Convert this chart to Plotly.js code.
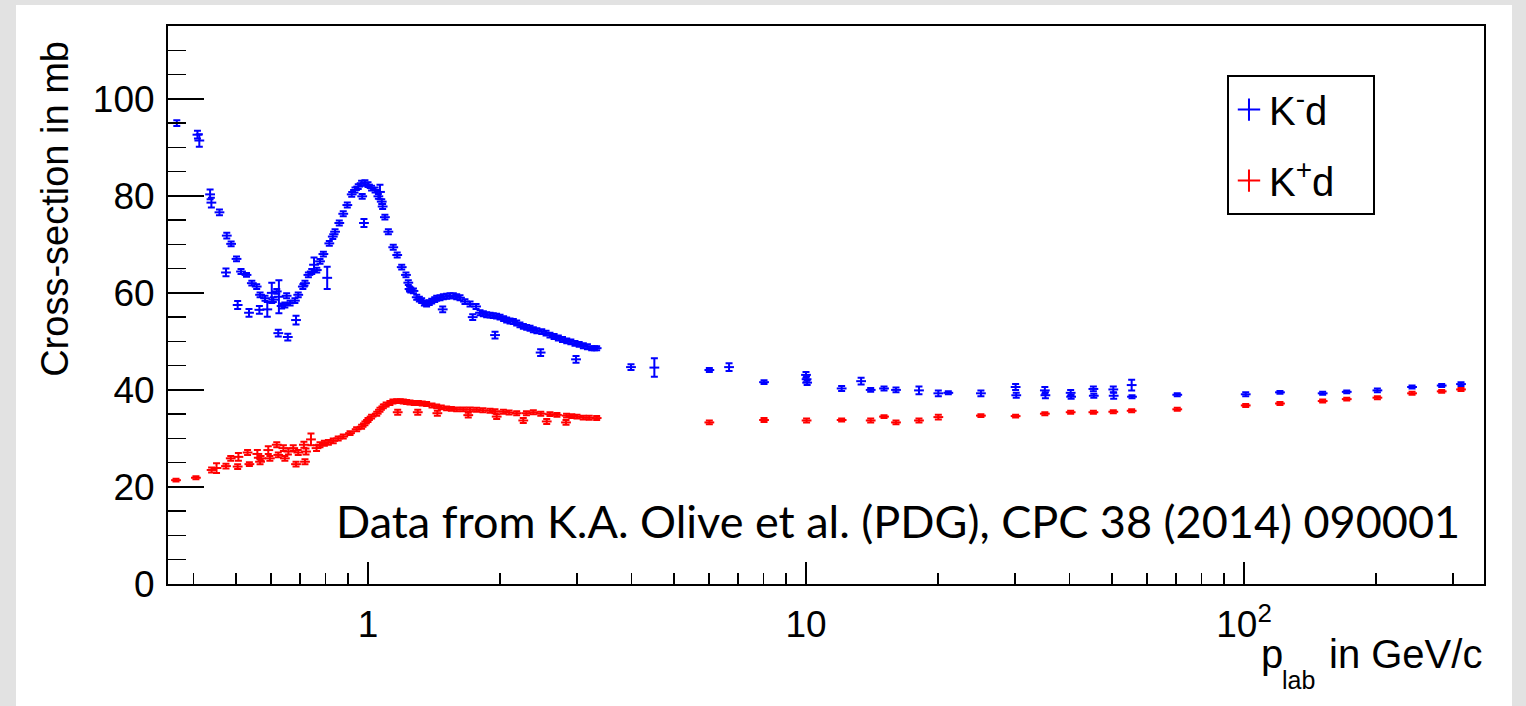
<!DOCTYPE html>
<html><head><meta charset="utf-8">
<script src="https://cdn.plot.ly/plotly-3.0.1.min.js"></script>
<style>
html,body{margin:0;padding:0;background:#e2e2e2;width:1526px;height:706px;overflow:hidden}
#chart{position:absolute;left:16px;top:5px;width:1496px;height:701px;background:#fff}
</style></head><body><div id="chart"></div>
<script>
// K- d total cross-section (mb) vs p_lab (GeV/c)
const kmX = [0.366,0.408,0.412,0.436,0.439,0.458,0.474,0.476,0.487,0.501,0.504,0.513,0.528,0.535,0.543,0.557,0.565,0.567,0.582,0.589,
0.603,0.608,0.619,0.624,0.626,0.635,0.646,0.652,0.656,0.664,0.681,0.685,0.693,0.710,0.718,0.731,0.744,0.753,0.764,0.777,
0.791,0.807,0.816,0.831,0.841,0.860,0.878,0.897,0.918,0.934,0.950,0.967,0.970,0.979,0.984,1.000,1.019,1.038,1.056,1.065,
1.075,1.080,1.093,1.113,1.142,1.166,1.194,1.221,1.236,1.244,1.252,1.270,1.292,1.310,1.326,1.345,1.361,1.380,1.398,1.420,
1.435,1.460,1.481,1.486,1.512,1.539,1.566,1.594,1.622,1.665,1.710,1.734,1.765,1.802,1.834,1.866,1.900,1.932,1.950,1.966,
2.002,2.040,2.073,2.110,2.147,2.185,2.223,2.263,2.303,2.344,2.385,2.430,2.478,2.493,2.550,2.603,2.660,2.720,2.780,2.843,
2.905,2.969,2.985,3.035,3.102,3.170,3.241,3.290,3.327,3.985,4.506,6.016,6.673,8.02,10.0,10.03,10.06,12.06,13.36,14.05,
15.07,16.05,18.11,20.05,21.13,25.08,30.1,30.2,35.1,35.2,40.2,40.3,45.3,45.4,50.3,50.4,55.4,55.5,70.4,100.9,
120.8,151.2,171.6,201.6,241.9,282.7,312.9];
const kmY = [95.0,92.6,91.4,80.3,78.6,76.6,64.2,71.8,70.1,67.0,57.5,64.4,63.7,55.9,62.0,61.3,56.5,59.6,58.9,56.6,
60.0,58.6,60.3,51.7,59.2,57.3,57.5,59.4,50.9,57.9,58.4,54.4,59.6,61.3,62.0,63.7,64.4,65.8,64.7,66.5,
68.0,63.1,70.2,71.6,72.6,74.4,76.3,78.1,80.3,81.2,81.9,82.6,79.9,74.4,82.7,82.3,81.6,81.2,79.9,80.8,
78.8,77.8,75.6,72.6,69.4,67.8,65.3,63.7,62.1,60.8,60.6,60.4,59.1,58.7,58.4,57.9,57.7,58.0,58.3,58.6,
58.9,59.0,56.6,59.2,59.3,59.4,59.4,59.2,59.0,58.2,57.7,55.0,57.2,55.9,55.7,55.5,55.4,55.3,51.3,55.2,
55.0,54.7,54.4,54.2,54.1,53.8,53.4,53.1,52.9,52.7,52.4,52.2,47.7,52.0,51.7,51.3,51.0,50.7,50.4,50.1,
49.9,49.6,46.3,49.4,49.1,48.9,48.6,48.6,48.6,44.7,44.6,44.1,44.7,41.6,43.1,42.2,41.5,40.3,41.8,40.0,
40.3,40.0,39.9,39.3,39.4,39.3,40.6,38.9,39.9,38.9,39.4,38.6,40.2,38.8,40.1,38.8,41.0,38.6,39.0,39.1,
39.5,39.3,39.6,39.9,40.6,40.9,41.2];
const kmErr = [0.6,0.8,1.3,1.0,1.0,0.6,0.8,0.6,0.5,0.5,0.8,0.5,0.4,0.8,0.5,0.5,0.8,0.5,0.5,1.5,
2.1,0.5,0.5,0.7,3.4,0.5,0.5,0.5,0.7,0.5,0.5,0.9,0.5,0.5,0.5,0.5,0.5,1.5,0.5,0.5,
0.5,2.3,0.5,0.5,0.5,0.5,0.5,0.5,0.5,0.5,0.5,0.5,0.5,0.8,0.5,0.5,0.5,0.5,0.5,1.5,
0.5,0.5,0.5,0.5,0.5,0.5,0.5,0.5,0.5,0.5,0.5,0.5,0.5,0.5,0.5,0.5,0.5,0.5,0.5,0.5,
0.5,0.5,0.6,0.5,0.5,0.5,0.5,0.5,0.5,0.5,0.5,0.6,0.5,0.5,0.5,0.5,0.5,0.5,0.7,0.5,
0.5,0.5,0.5,0.5,0.5,0.5,0.5,0.5,0.5,0.5,0.5,0.5,0.7,0.5,0.5,0.5,0.5,0.5,0.5,0.5,
0.5,0.5,0.7,0.5,0.5,0.5,0.4,0.4,0.4,0.6,1.9,0.4,0.8,0.4,0.6,0.6,0.5,0.5,0.7,0.4,
0.4,0.5,0.8,0.6,0.3,0.6,0.6,0.5,0.7,0.6,0.6,0.4,0.5,0.4,0.6,0.6,1.1,0.3,0.3,0.4,
0.3,0.3,0.3,0.4,0.3,0.3,0.4];

// K+ d total cross-section (mb) vs p_lab (GeV/c)
const kpX = [0.3645,0.4047,0.4395,0.451,0.474,0.486,0.504,0.506,0.531,0.536,0.559,0.567,0.570,0.592,0.597,0.619,0.624,0.641,0.646,0.658,
0.675,0.685,0.693,0.714,0.718,0.722,0.741,0.763,0.777,0.795,0.812,0.833,0.855,0.878,0.910,0.942,0.967,0.984,1.000,1.019,
1.047,1.065,1.084,1.100,1.122,1.140,1.163,1.169,1.185,1.204,1.225,1.247,1.275,1.299,1.303,1.330,1.361,1.400,1.435,1.440,
1.470,1.512,1.550,1.594,1.651,1.694,1.710,1.770,1.830,1.899,1.950,1.967,2.037,2.100,2.185,2.262,2.300,2.385,2.480,2.559,
2.603,2.700,2.832,2.840,2.920,3.000,3.100,3.200,3.327,6.016,8.02,10.03,12.06,14.05,15.07,16.05,18.11,20.05,25.08,30.1,
35.1,40.2,45.3,50.3,55.4,70.4,100.9,120.8,151.2,171.6,201.6,241.9,282.7,312.9];
const kpY = [21.4,21.9,23.5,23.9,24.3,25.9,24.2,26.2,27.1,24.7,26.8,25.2,25.9,27.6,25.9,28.7,26.6,28.0,25.9,27.3,
28.0,24.7,27.1,28.7,25.2,27.3,29.8,28.0,28.7,29.0,29.2,29.5,30.0,30.4,31.1,31.9,32.4,33.1,33.8,34.5,
35.1,35.9,36.6,37.0,37.3,37.6,37.7,35.4,37.7,37.6,37.5,37.4,37.3,35.4,37.3,37.2,37.1,36.8,36.6,35.2,
36.4,36.2,36.1,36.0,36.0,34.8,35.95,35.9,35.8,35.7,35.6,34.5,35.5,35.35,35.2,33.7,35.2,35.4,35.1,33.5,
35.0,34.85,33.3,34.7,34.6,34.5,34.3,34.25,34.2,33.3,33.8,33.7,33.8,33.7,34.5,33.3,33.7,34.4,34.7,34.6,
35.1,35.4,35.4,35.5,35.7,36.0,36.8,37.2,37.7,38.1,38.4,39.3,39.7,40.1];
const kpErr = [0.3,0.3,0.5,1.0,0.5,0.5,0.5,0.8,0.5,0.4,0.8,0.5,0.5,0.8,0.5,0.5,0.5,0.6,0.5,0.6,
0.6,0.5,0.5,0.6,0.5,0.6,1.2,0.6,0.5,0.5,0.5,0.5,0.4,0.4,0.4,0.4,0.4,0.4,0.4,0.4,
0.4,0.4,0.4,0.4,0.4,0.4,0.4,0.5,0.4,0.4,0.4,0.4,0.4,0.5,0.4,0.4,0.4,0.4,0.4,0.5,
0.4,0.4,0.4,0.4,0.4,0.5,0.4,0.4,0.4,0.4,0.4,0.5,0.4,0.4,0.4,0.5,0.4,0.4,0.4,0.5,
0.4,0.4,0.5,0.4,0.4,0.4,0.4,0.4,0.4,0.4,0.4,0.4,0.3,0.4,0.3,0.4,0.4,0.5,0.3,0.3,
0.3,0.3,0.3,0.3,0.3,0.3,0.3,0.3,0.3,0.3,0.3,0.3,0.3,0.3];

const seriesNames = ['K<sup>-</sup>d', 'K<sup>+</sup>d'];
const xTickVals = [1, 10, 100];
const xTickText = ['1', '10', '10<sup>2</sup>'];
const xMinorVals = [0.4,0.5,0.6,0.7,0.8,0.9,2,3,4,5,6,7,8,9,20,30,40,50,60,70,80,90,200,300];
const yTickVals = [0, 20, 40, 60, 80, 100];
const yMinorVals = [5,10,15,25,30,35,45,50,55,65,70,75,85,90,95,105,110];

const BLUE = '#0000ff', RED = '#ff0000';
const FONT = 'Liberation Sans, Arial, Helvetica, sans-serif';
const PAD = '\u00a0\u00a0\u00a0';

function dataTrace(x, y, e, color, name) {
  return {
    type: 'scatter', mode: 'markers', x: x, y: y, name: name, showlegend: false, hoverinfo: 'x+y',
    marker: {symbol: 'line-ew', size: 7, color: color, line: {color: color, width: 2}},
    error_y: {type: 'data', array: e, visible: true, width: 3.5, thickness: 2, color: color}
  };
}
function legendTrace(name, color, grp) {
  return {
    type: 'scatter', mode: 'markers', x: [null], y: [null], name: name + PAD, legendgroup: grp,
    marker: {symbol: 'cross-thin', size: 16, color: color, line: {color: color, width: 2}}
  };
}

const traces = [
  dataTrace(kmX, kmY, kmErr, BLUE, seriesNames[0]),
  dataTrace(kpX, kpY, kpErr, RED, seriesNames[1]),
  legendTrace(seriesNames[0], BLUE, 'a'),
  legendTrace(seriesNames[1], RED, 'b')
];

const layout = {
  width: 1496, height: 701,
  margin: {l: 152, r: 28, t: 21, b: 122},
  paper_bgcolor: '#ffffff', plot_bgcolor: '#ffffff',
  font: {family: FONT, size: 37, color: '#000'},
  xaxis: {
    type: 'log', range: [-0.4566, 2.5479], showgrid: false, zeroline: false,
    showline: true, mirror: true, linecolor: '#000', linewidth: 2,
    tickmode: 'array', tickvals: xTickVals, ticktext: xTickText,
    ticks: 'inside', ticklen: 22, tickwidth: 1.5, tickcolor: '#000',
    ticklabelstandoff: 7,
    tickfont: {family: FONT, size: 37, color: '#000'},
    minor: {tickmode: 'array', tickvals: xMinorVals, ticks: 'inside', ticklen: 11, tickwidth: 1.5, tickcolor: '#000', showgrid: false}
  },
  yaxis: {
    range: [0, 115], showgrid: false, zeroline: false,
    showline: true, mirror: true, linecolor: '#000', linewidth: 2,
    tickmode: 'array', tickvals: yTickVals,
    ticks: 'inside', ticklen: 36, tickwidth: 1.5, tickcolor: '#000',
    ticklabelstandoff: 4,
    tickfont: {family: FONT, size: 37, color: '#000'},
    minor: {tickmode: 'array', tickvals: yMinorVals, ticks: 'inside', ticklen: 18, tickwidth: 1.5, tickcolor: '#000', showgrid: false}
  },
  legend: {
    x: 0.8047, y: 0.912, xanchor: 'left', yanchor: 'top',
    bgcolor: '#fff', bordercolor: '#000', borderwidth: 2,
    font: {family: FONT, size: 40, color: '#000'},
    tracegroupgap: 16, itemwidth: 30, traceorder: 'grouped'
  },
  annotations: [
    {xref: 'paper', yref: 'paper', x: -0.086, y: 0.672, xanchor: 'center', yanchor: 'middle',
     textangle: -90, showarrow: false, text: 'Cross-section in mb',
     font: {family: FONT, size: 38, color: '#000'}},
    {xref: 'paper', yref: 'paper', x: 0.829, y: -0.0824, xanchor: 'left', yanchor: 'top',
     showarrow: false, text: 'p',
     font: {family: FONT, size: 40, color: '#000'}},
    {xref: 'paper', yref: 'paper', x: 0.8452, y: -0.143, xanchor: 'left', yanchor: 'top',
     showarrow: false, text: 'lab',
     font: {family: FONT, size: 25, color: '#000'}},
    {xref: 'paper', yref: 'paper', x: 1.0, y: -0.0824, xanchor: 'right', yanchor: 'top',
     showarrow: false, text: 'in GeV/c',
     font: {family: FONT, size: 40, color: '#000'}},
    {xref: 'paper', yref: 'paper', x: 0.5547, y: 0.113, xanchor: 'center', yanchor: 'middle',
     showarrow: false, text: 'Data from K.A. Olive et al. (PDG), CPC 38 (2014) 090001',
     font: {family: 'Lato, Open Sans, sans-serif', size: 45, color: '#000'}}
  ]
};

Plotly.newPlot('chart', traces, layout, {displayModeBar: false, staticPlot: true});
</script></body></html>
